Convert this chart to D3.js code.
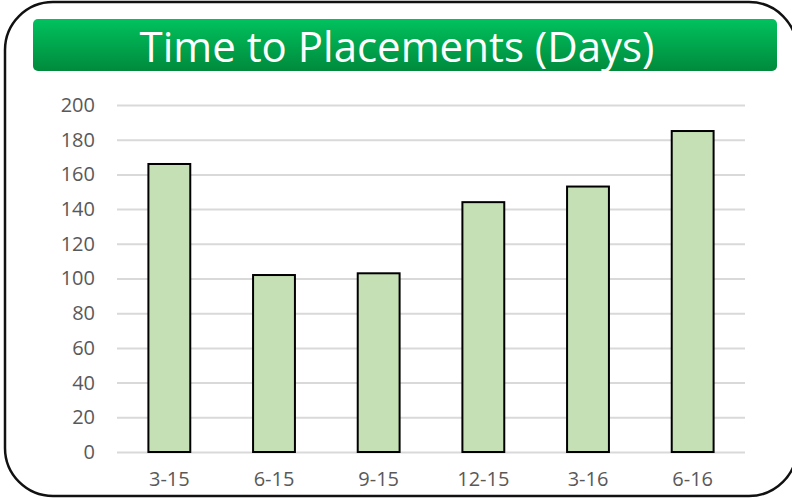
<!DOCTYPE html>
<html>
<head>
<meta charset="utf-8">
<script src="https://cdn.jsdelivr.net/npm/d3@7"></script>
<style>
  body { margin: 0; background: #fff; }
  .grid line { stroke: #d9d9d9; stroke-width: 2; }
  .grid .domain { display: none; }
  .axis text { fill: #595959; font-family: "Open Sans", sans-serif; font-size: 20px; }
  .axis .domain, .axis line { display: none; }
</style>
</head>
<body>
<div id="chart"></div>
<script>
var quarters = ["3-15", "6-15", "9-15", "12-15", "3-16", "6-16"];
var days = [166, 102, 103, 144, 153, 185];
var yTicks = [0, 20, 40, 60, 80, 100, 120, 140, 160, 180, 200];

var width = 792, height = 498;
var margin = { top: 105, right: 47, bottom: 46, left: 117 };

var svg = d3.select("#chart").append("svg")
  .attr("width", width)
  .attr("height", height);

var defs = svg.append("defs");
var grad = defs.append("linearGradient")
  .attr("id", "titleGrad")
  .attr("x1", 0).attr("y1", 0).attr("x2", 0).attr("y2", 1);
grad.append("stop").attr("offset", "0%").attr("stop-color", "#00c25e");
grad.append("stop").attr("offset", "100%").attr("stop-color", "#008a3c");

// outer frame
svg.append("rect")
  .attr("x", 5).attr("y", 2)
  .attr("width", 792).attr("height", 494)
  .attr("rx", 48).attr("ry", 48)
  .attr("fill", "#fff")
  .attr("stroke", "#111")
  .attr("stroke-width", 2.5);

// title banner
svg.append("rect")
  .attr("x", 33).attr("y", 19)
  .attr("width", 744).attr("height", 52)
  .attr("rx", 5).attr("ry", 5)
  .attr("fill", "url(#titleGrad)");

svg.append("text")
  .attr("x", 397).attr("y", 62)
  .attr("text-anchor", "middle")
  .attr("fill", "#fff")
  .style("font-family", "'Open Sans', sans-serif")
  .style("font-size", "42px")
  .text("Time to Placements (Days)");

var x = d3.scaleBand()
  .domain(quarters)
  .range([margin.left, width - margin.right])
  .paddingInner(0.6)
  .paddingOuter(0.3);

var y = d3.scaleLinear()
  .domain([0, 200])
  .range([height - margin.bottom, margin.top]);

svg.append("g")
  .attr("class", "grid")
  .attr("transform", "translate(" + margin.left + ",0)")
  .call(d3.axisRight(y).tickValues(yTicks).tickSize(width - margin.left - margin.right).tickFormat(""));

svg.append("g")
  .attr("class", "axis")
  .attr("transform", "translate(" + (margin.left - 22) + ",0)")
  .call(d3.axisLeft(y).tickValues(yTicks).tickSize(0).tickPadding(0));

svg.append("g")
  .attr("class", "axis")
  .attr("transform", "translate(0," + (height - margin.bottom + 14) + ")")
  .call(d3.axisBottom(x).tickSize(0).tickPadding(6));

svg.selectAll(".bar")
  .data(quarters)
  .enter()
  .append("rect")
  .attr("class", "bar")
  .attr("x", (d) => x(d))
  .attr("y", (d, i) => y(days[i]))
  .attr("width", x.bandwidth())
  .attr("height", (d, i) => y(0) - y(days[i]))
  .attr("fill", "#c5e0b4")
  .attr("stroke", "#000")
  .attr("stroke-width", 2);
</script>
</body>
</html>
